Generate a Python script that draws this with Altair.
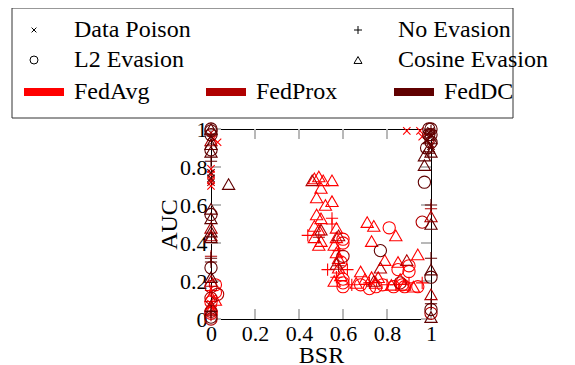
import altair as alt
import pandas as pd

METHODS = ["FedAvg", "FedProx", "FedDC"]
METHOD_COLORS = ["#ff0000", "#b00000", "#600000"]
ATTACKS = ["Data Poison", "No Evasion", "L2 Evasion", "Cosine Evasion"]
ATTACK_CODES = {"D": "Data Poison", "N": "No Evasion", "L": "L2 Evasion", "C": "Cosine Evasion"}
ATTACK_SHAPES = [
    "M-0.6,-0.6L0.6,0.6M-0.6,0.6L0.6,-0.6",
    "M-1,0L1,0M0,-1L0,1",
    "circle",
    "triangle-up",
]
TICKS = [0, 0.2, 0.4, 0.6, 0.8, 1.0]

# FedAvg
fedavg_bsr = [0.89, 0.95, 0.96, 0.03, 0.0, 0.0, 0.0, 0.0, 0.01, 0.0, 0.01,
              0.47, 0.49, 0.51, 0.55, 0.50, 0.48, 0.52, 0.55, 0.48, 0.50, 0.47, 0.49, 0.47, 0.50, 0.49,
              0.57, 0.57, 0.56, 0.57, 0.58, 0.71, 0.74, 0.73, 0.84, 0.79, 0.85, 0.94, 0.56, 0.68, 0.70,
              0.73, 0.76, 0.82, 0.88, 0.92, 0.58, 0.59, 0.0, 0.0, 0.02, 0.75, 0.66, 0.86,
              0.81, 0.60, 0.60, 0.60, 0.60, 0.60, 0.75, 0.85, 0.90, 0.90, 0.78, 0.83, 0.87, 0.94, 0.02,
              0.02, 0.0, 0.0, 0.59, 0.68, 0.72, 0.88,
              0.44, 0.55, 0.55, 0.53, 0.62, 0.64, 0.96, 0.72, 0.80, 0.90, 0.0, 0.58, 0.57, 0.84]
fedavg_auc = [0.99, 0.99, 0.96, 0.93, 0.79, 0.76, 0.73, 0.70, 0.95, 0.08, 0.05,
              0.74, 0.75, 0.73, 0.73, 0.69, 0.64, 0.60, 0.62, 0.55, 0.53, 0.49, 0.47, 0.43, 0.41, 0.39,
              0.48, 0.43, 0.39, 0.35, 0.32, 0.51, 0.49, 0.41, 0.44, 0.31, 0.30, 0.34, 0.20, 0.25, 0.21,
              0.22, 0.22, 0.18, 0.18, 0.17, 0.27, 0.23, 0.12, 0.05, 0.10, 0.19, 0.19, 0.21,
              0.48, 0.42, 0.40, 0.21, 0.19, 0.17, 0.17, 0.26, 0.28, 0.25, 0.18, 0.17, 0.18, 0.17, 0.18,
              0.14, 0.09, 0.03, 0.30, 0.18, 0.16, 0.17,
              0.44, 0.50, 0.53, 0.26, 0.26, 0.18, 0.19, 0.19, 0.18, 0.19, 0.15, 0.36, 0.22, 0.18]
fedavg_atk = list("D" * 11 + "C" * 43 + "L" * 22 + "N" * 14)

# FedProx
fedprox_bsr = [0.46, 0.50, 0.58, 0.77, 0.57, 0.74, 0.89, 0.0, 0.0, 1.0, 1.0, 0.0, 0.0, 0.0,
               0.60, 0.0, 0.0, 0.03, 0.0, 0.86, 0.96, 1.0, 0.0,
               0.49, 0.58, 0.0, 1.0, 0.0,
               0.0, 1.0, 0.0]
fedprox_auc = [0.73, 0.47, 0.44, 0.27, 0.29, 0.20, 0.31, 0.48, 0.44, 0.54, 0.13, 0.94, 0.20, 0.07,
               0.33, 0.17, 0.11, 0.13, 0.04, 0.19, 0.51, 0.03, 0.00,
               0.43, 0.28, 0.33, 0.58, 0.02,
               0.72, 0.92, 0.98]
fedprox_atk = list("C" * 14 + "L" * 9 + "N" * 5 + "D" * 3)

# FedDC
feddc_bsr = [0.08, 0.0, 0.0, 0.0, 0.0, 0.0, 0.0, 0.0, 0.97, 0.97, 1.0, 1.0, 1.0, 1.0, 0.0, 0.99, 1.0,
             0.0, 0.0, 0.0, 0.0, 0.0, 0.0, 0.77, 0.97, 1.0, 1.0, 1.0, 0.99, 1.0, 0.98, 0.0, 1.0, 0.99,
             0.0, 0.0, 0.0, 1.0, 1.0, 1.0, 1.0, 0.99, 0.0,
             0.0, 0.0, 0.99, 1.0, 0.98, 1.0, 0.0, 1.0, 0.98]
feddc_auc = [0.71, 0.92, 0.88, 0.58, 0.53, 0.46, 0.43, 0.22, 0.86, 0.81, 0.50, 0.26, 0.01, 0.95, 1.0, 0.90, 0.88,
             0.99, 1.0, 0.89, 0.55, 0.27, 0.01, 0.36, 0.72, 0.22, 0.05, 1.0, 0.97, 0.93, 0.90, 0.97, 0.97, 1.0,
             0.83, 0.32, 0.30, 0.32, 0.60, 0.08, 0.99, 0.88, 0.04,
             0.77, 0.74, 0.98, 0.96, 0.94, 0.91, 0.96, 0.99, 0.97]
feddc_atk = list("C" * 17 + "L" * 17 + "N" * 9 + "D" * 9)

rows = []
for name, bs, au, at in [("FedAvg", fedavg_bsr, fedavg_auc, fedavg_atk),
                         ("FedProx", fedprox_bsr, fedprox_auc, fedprox_atk),
                         ("FedDC", feddc_bsr, feddc_auc, feddc_atk)]:
    n = min(len(bs), len(au), len(at))
    for i in range(n):
        rows.append({"bsr": bs[i], "auc": au[i], "method": name, "attack": ATTACK_CODES[at[i]]})
df = pd.DataFrame(rows)
ticks_df = pd.DataFrame({"t": TICKS})
box_df = pd.DataFrame({"a": [0]})

W, H = 220, 190
FONT = "Liberation Serif"
xscale = alt.Scale(domain=[0, 1], nice=False, zero=False)
yscale = alt.Scale(domain=[0, 1], nice=False, zero=False)
xaxis = alt.Axis(values=TICKS, ticks=False, format="~g", labelFlush=False, grid=False,
                 domainColor="black", labelPadding=4, titlePadding=-1)
yaxis = alt.Axis(values=TICKS, ticks=False, format="~g", labelFlush=False, grid=False,
                 domainColor="black", labelPadding=4, titlePadding=-2)

tick_style = dict(color="#b8b8b8", strokeWidth=2)
tl = alt.Chart(ticks_df).mark_rule(**tick_style).encode(
    y=alt.Y("t:Q", scale=yscale, axis=yaxis, title="AUC"), x=alt.value(0), x2=alt.value(10))
tr = alt.Chart(ticks_df).mark_rule(**tick_style).encode(
    y=alt.Y("t:Q", scale=yscale, axis=yaxis, title="AUC"), x=alt.value(W), x2=alt.value(W - 10))
tt = alt.Chart(ticks_df).mark_rule(**tick_style).encode(
    x=alt.X("t:Q", scale=xscale, axis=xaxis, title="BSR"), y=alt.value(0), y2=alt.value(10))
tb = alt.Chart(ticks_df).mark_rule(**tick_style).encode(
    x=alt.X("t:Q", scale=xscale, axis=xaxis, title="BSR"), y=alt.value(H), y2=alt.value(H - 10))

box = alt.Chart(box_df).mark_rect(fill="white", fillOpacity=0, stroke="#333333", strokeWidth=1).encode(
    x=alt.value(-199), x2=alt.value(302), y=alt.value(-121), y2=alt.value(-11))

points = alt.Chart(df).mark_point(filled=False, size=150, strokeWidth=1.1, opacity=1).encode(
    x=alt.X("bsr:Q", scale=xscale, title="BSR", axis=xaxis),
    y=alt.Y("auc:Q", scale=yscale, title="AUC", axis=yaxis),
    color=alt.Color("method:N", title=None,
                    scale=alt.Scale(domain=METHODS, range=METHOD_COLORS),
                    legend=alt.Legend(orient="none", legendX=-191, legendY=-61, columns=3,
                                      direction="horizontal",
                                      columnPadding=40, symbolType="M-1,0L1,0", symbolSize=1600,
                                      symbolStrokeWidth=8, labelOffset=6, labelLimit=300,
                                      labelFont=FONT, labelFontSize=24, labelColor="black")),
    shape=alt.Shape("attack:N", title=None,
                    scale=alt.Scale(domain=ATTACKS, range=ATTACK_SHAPES),
                    legend=alt.Legend(orient="none", legendX=-189, legendY=-111, columns=2,
                                      direction="horizontal",
                                      columnPadding=155, rowPadding=6, symbolSize=64,
                                      symbolStrokeColor="black", symbolStrokeWidth=1,
                                      labelOffset=28, labelLimit=300,
                                      labelFont=FONT, labelFontSize=24, labelColor="black")),
)

chart = alt.layer(tl, tr, tt, tb, box, points).properties(
    width=W, height=H,
    autosize=alt.AutoSizeParams(type="none"),
    padding={"left": 203, "top": 121, "right": 130, "bottom": 45},
).configure(
    font=FONT,
).configure_view(stroke="black", strokeWidth=1).configure_axis(
    labelFont=FONT, labelFontSize=22, labelColor="black",
    titleFont=FONT, titleFontSize=24, titleColor="black", titleFontWeight="normal",
    domainWidth=1,
).configure_legend(
    labelFont=FONT, labelFontSize=24, labelColor="black", padding=0,
)

chart.save("out.html", embed_options={"renderer": "svg", "actions": False})
